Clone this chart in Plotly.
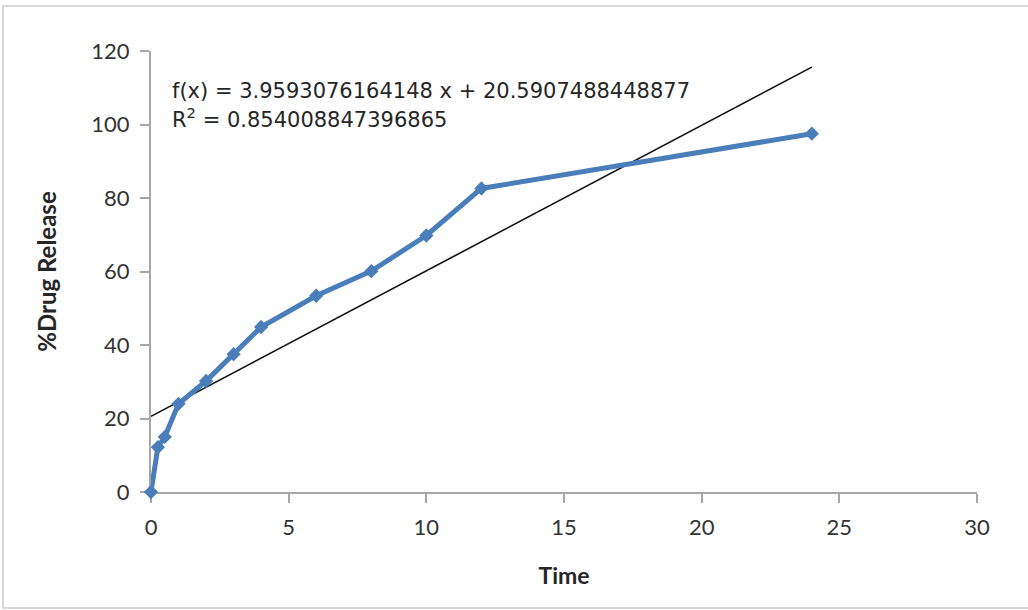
import plotly.graph_objects as go

time = [0, 0.25, 0.5, 1, 2, 3, 4, 6, 8, 10, 12, 24]
drug_release = [0, 12.2, 15, 24, 30.2, 37.5, 44.9, 53.4, 60.1, 69.8, 82.6, 97.5]

slope = 3.9593076164148
intercept = 20.5907488448877
r_squared = "0.854008847396865"
trend_x = [min(time), max(time)]
trend_y = [slope * v + intercept for v in trend_x]

x_ticks = [0, 5, 10, 15, 20, 25, 30]
y_ticks = [0, 20, 40, 60, 80, 100, 120]

FONT = "Lato, 'Open Sans', sans-serif"
ANN_FONT = "'DejaVu Sans', sans-serif"

fig = go.Figure()
fig.add_trace(go.Scatter(
    x=trend_x, y=trend_y, mode="lines",
    line=dict(color="#111111", width=1.6),
    showlegend=False, hoverinfo="skip"))
fig.add_trace(go.Scatter(
    x=time, y=drug_release, mode="lines+markers", cliponaxis=False,
    line=dict(color="#4A7EBB", width=5),
    marker=dict(symbol="diamond", size=11, color="#4A7EBB"),
    showlegend=False))

ann_lines = [f"f(x) = {slope:.13f} x + {intercept:.13f}",
             f"R<sup>2</sup> = {r_squared}"]
ann_centers = [91, 118]
for txt, cy in zip(ann_lines, ann_centers):
    fig.add_annotation(
        xref="paper", yref="paper", x=(170 - 151) / 826, y=(492 - cy) / 441,
        xanchor="left", yanchor="middle", align="left", showarrow=False,
        text=txt, font=dict(family=ANN_FONT, size=21, color="#262626"))

axis_common = dict(
    showgrid=False, zeroline=False, showline=True, linecolor="#A6A6A6", linewidth=2,
    ticks="outside", ticklen=9, tickwidth=2, tickcolor="#A6A6A6",
    ticklabelstandoff=6, layer="below traces",
    tickfont=dict(family=FONT, size=22, color="#333333"))

fig.update_xaxes(range=[0, 30], tickvals=x_ticks,
                 title=dict(text="<b>Time</b>", font=dict(family=FONT, size=23, color="#262626"), standoff=28),
                 **axis_common)
fig.update_yaxes(range=[0, 120], tickvals=y_ticks,
                 title=dict(text="<b>%Drug Release</b>", font=dict(family=FONT, size=24, color="#262626"), standoff=28),
                 **axis_common)

fig.add_shape(type="rect", xref="paper", yref="paper",
              x0=-148 / 826, x1=(1030 - 151) / 826, y0=(492 - 608) / 441, y1=(492 - 6) / 441,
              line=dict(color="#D9D9D9", width=2), layer="below")

fig.update_layout(
    width=1028, height=610,
    margin=dict(l=151, r=51, t=51, b=118),
    paper_bgcolor="white", plot_bgcolor="white",
    font=dict(family=FONT))

fig.write_html("out.html")
